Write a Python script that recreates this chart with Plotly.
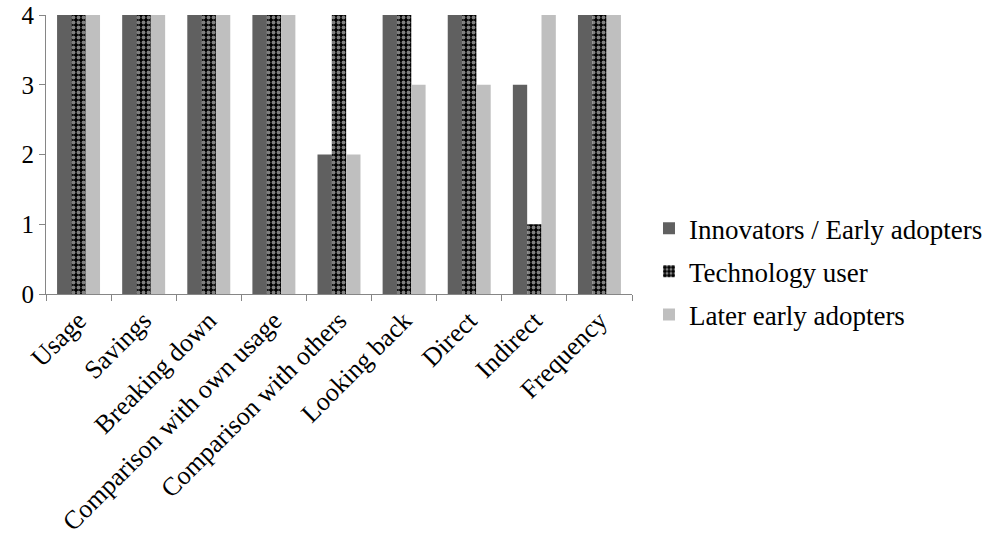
import plotly.graph_objects as go

categories = ["Usage", "Savings", "Breaking down", "Comparison with own usage",
              "Comparison with others", "Looking back", "Direct", "Indirect", "Frequency"]
innovators = [4, 4, 4, 4, 2, 4, 4, 3, 4]
technology_user = [4, 4, 4, 4, 4, 4, 4, 1, 4]
later_adopters = [4, 4, 4, 4, 2, 3, 3, 4, 4]
y_ticks = [0, 1, 2, 3, 4]

FAMILY = "Liberation Serif"
Y_FONT = dict(family=FAMILY, size=25, color="#000000")
X_FONT = dict(family=FAMILY, size=26, color="#000000")
LEGEND_FONT = dict(family=FAMILY, size=27, color="#000000")

fig = go.Figure()
fig.add_trace(go.Bar(
    x=categories, y=innovators, name="Innovators / Early adopters",
    legendgroup="a", marker=dict(color="#606060", line=dict(width=0)),
))
fig.add_trace(go.Bar(
    x=categories, y=technology_user, name="Technology user",
    legendgroup="b",
    marker=dict(color="#000000", line=dict(width=0),
                pattern=dict(shape=".", fgcolor="#ffffff", bgcolor="#000000",
                             size=5, solidity=0.45, fillmode="overlay")),
))
fig.add_trace(go.Bar(
    x=categories, y=later_adopters, name="Later early adopters",
    legendgroup="c", marker=dict(color="#bfbfbf", line=dict(width=0)),
))

fig.update_layout(
    width=984, height=539,
    margin=dict(l=46, r=352, t=15, b=245, autoexpand=False),
    paper_bgcolor="white", plot_bgcolor="white",
    barmode="group", bargap=0.34, bargroupgap=0,
    font=Y_FONT,
    showlegend=True,
    legend=dict(x=1.029, y=0.08, xanchor="left", yanchor="middle",
                font=LEGEND_FONT, tracegroupgap=5, itemwidth=30,
                bgcolor="rgba(0,0,0,0)"),
)
fig.update_xaxes(
    type="category", tickangle=-45, tickson="boundaries",
    ticks="outside", ticklen=6, tickcolor="#868686",
    showline=True, linecolor="#868686", linewidth=1,
    showgrid=False, tickfont=X_FONT, automargin=False,
)
fig.update_yaxes(
    range=[0, 4], tickvals=y_ticks, ticks="outside", ticklen=6,
    tickcolor="#868686", showline=True, linecolor="#868686", linewidth=1,
    showgrid=False, zeroline=False, tickfont=Y_FONT, automargin=False,
)

fig.write_html("out.html")
